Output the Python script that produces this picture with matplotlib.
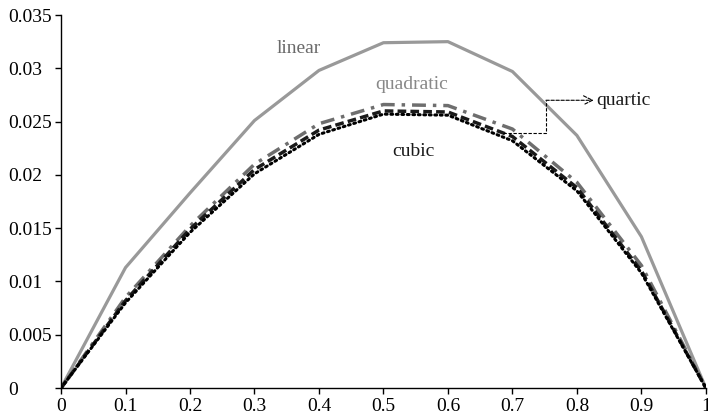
import matplotlib
matplotlib.use("Agg")
import matplotlib.pyplot as plt
from matplotlib.transforms import ScaledTranslation

plt.rcParams['font.family'] = ['Liberation Serif', 'DejaVu Serif']

x = [0, 0.1, 0.2, 0.3, 0.4, 0.5, 0.6, 0.7, 0.8, 0.9, 1.0]
linear = [0, 0.0113, 0.0183, 0.0251, 0.0298, 0.0324, 0.0325, 0.0297, 0.0237, 0.0142, 0]
quadratic = [0, 0.0085, 0.0152, 0.0210, 0.0248, 0.0266, 0.0265, 0.0243, 0.0193, 0.0115, 0]
cubic = [0, 0.0082, 0.0149, 0.0205, 0.0242, 0.0260, 0.0259, 0.0236, 0.0188, 0.0110, 0]
quartic = [0, 0.0080, 0.0146, 0.0201, 0.0238, 0.0257, 0.0256, 0.0232, 0.0185, 0.0108, 0]

xticks = [0, 0.1, 0.2, 0.3, 0.4, 0.5, 0.6, 0.7, 0.8, 0.9, 1]
xticklabels = ['0', '0.1', '0.2', '0.3', '0.4', '0.5', '0.6', '0.7', '0.8', '0.9', '1']
yticks = [0, 0.005, 0.01, 0.015, 0.02, 0.025, 0.03, 0.035]
yticklabels = ['0', '0.005', '0.01', '0.015', '0.02', '0.025', '0.03', '0.035']

fig = plt.figure(figsize=(7.08, 4.17), dpi=100)
ax = fig.add_axes([0.0862, 0.0695, 0.9108, 0.8945])

ax.plot(x, linear, color='#999999', lw=2.3)
ax.plot(x, quadratic, color='#6e6e6e', lw=2.5, linestyle=(0, (4, 2, 1, 2)))
ax.plot(x, cubic, color='#1a1a1a', lw=2.5, linestyle=(0, (2.5, 1.2)))
ax.plot(x, quartic, color='black', lw=2.2, linestyle=(0, (0.6, 1.2)), dash_capstyle='round')

ax.text(0.369, 0.0319, 'linear', color='#6a6a6a', fontsize=14, ha='center', va='center')
ax.text(0.544, 0.0285, 'quadratic', color='#888888', fontsize=14, ha='center', va='center')
ax.text(0.547, 0.0222, 'cubic', color='#1a1a1a', fontsize=14, ha='center', va='center')

# quartic call-out: dashed elbow with open arrow head
ax.plot([0.685, 0.752, 0.752], [0.0239, 0.0239, 0.0270], color='black', lw=0.8,
        linestyle=(0, (3, 1.5)))
ax.annotate('', xy=(0.826, 0.0270), xytext=(0.752, 0.0270),
            arrowprops=dict(arrowstyle='->', color='black', lw=0.8, linestyle=(0, (3, 1.5)),
                            shrinkA=0, shrinkB=0, mutation_scale=16))
ax.text(0.830, 0.0270, 'quartic', color='#1a1a1a', fontsize=14, ha='left', va='center')

ax.set_xlim(0, 1)
ax.set_ylim(0, 0.035)
ax.set_xticks(xticks)
ax.set_xticklabels(xticklabels)
ax.set_yticks(yticks)
ax.set_yticklabels(yticklabels)
ax.tick_params(labelsize=14, length=4, width=1, colors='black')
ax.tick_params(axis='y', pad=0)
ax.spines['top'].set_visible(False)
ax.spines['right'].set_visible(False)
for s in ['left', 'bottom']:
    ax.spines[s].set_linewidth(1)
ax.patch.set_alpha(0)

# y labels are left aligned at the figure edge, as in the source
shift = ScaledTranslation(-0.47, 0, fig.dpi_scale_trans)
for lab in ax.get_yticklabels():
    lab.set_ha('left')
    lab.set_transform(lab.get_transform() + shift)

fig.savefig('out.png', dpi=100)
